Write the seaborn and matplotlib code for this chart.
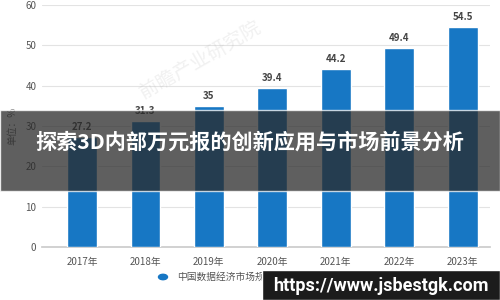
import matplotlib
matplotlib.use("Agg")
import matplotlib.pyplot as plt
import seaborn as sns
import pandas as pd
from matplotlib.patches import Rectangle

years = ["2017年", "2018年", "2019年", "2020年", "2021年", "2022年", "2023年"]
values = [27.2, 31.3, 35, 39.4, 44.2, 49.4, 54.5]
yticks = [0, 10, 20, 30, 40, 50, 60]
legend_label = "中国数据经济市场规模（万亿元）"
ylabel = "单位：%"
title = "探索3D内部万元报的创新应用与市场前景分析"
url = "https://www.jsbestgk.com"

sns.set_theme(style="white")
plt.rcParams['font.family'] = ['Noto Sans CJK SC', 'DejaVu Sans']

df = pd.DataFrame({"year": years, "value": values})

fig = plt.figure(figsize=(5, 3), dpi=100)
ax = fig.add_axes([0.084, 0.177, 0.896, 0.806])
sns.barplot(data=df, x="year", y="value", color="#1777c4", width=0.47,
            saturation=1, ax=ax, zorder=3)
ax.set_xlim(-0.63, 6.43)
ax.set_ylim(0, 60)
ax.set_yticks(yticks)
ax.yaxis.grid(True, color="#e3e3e3", linewidth=0.8, zorder=0)
for s in ["top", "right", "left"]:
    ax.spines[s].set_visible(False)
ax.spines["bottom"].set_color("#cccccc")
ax.tick_params(axis="both", labelsize=7, colors="#555555", length=0, pad=4)
ax.tick_params(axis="x", length=3, color="#cccccc")
ax.set_xlabel("")
ax.set_ylabel(ylabel, fontsize=7, color="#666666", labelpad=6)

for i, v in enumerate(values):
    ax.text(i, v + 1.2, f"{v:g}", ha="center", va="bottom", fontsize=7,
            color="#444444", fontweight="bold")

# watermark
fig.text(0.40, 0.80, "前瞻产业研究院", fontsize=14, color="#b0b0b0", alpha=0.18,
         rotation=30, ha="center", va="center")

# legend
fig.patches.append(plt.Circle((163 / 500, 1 - 277 / 300), 0.009, transform=fig.transFigure,
                              color="#1777c4", figure=fig))
fig.text(177 / 500, 1 - 277 / 300, legend_label, fontsize=7, color="#555555",
         ha="left", va="center")

# banner
fig.patches.append(Rectangle((0, 1 - 191 / 300), 1, 81 / 300, transform=fig.transFigure,
                             facecolor="#2a2a2a", alpha=0.75, figure=fig, zorder=10))
fig.text(35 / 500, 1 - 142 / 300, title, fontsize=15.2, color="white", fontweight="bold",
         ha="left", va="center", zorder=11)

# url box
fig.patches.append(Rectangle((262 / 500, 0), 238 / 500, 30 / 300, transform=fig.transFigure,
                             facecolor="#1c1c1c", figure=fig, zorder=10))
fig.text(381 / 500, 14 / 300, url, fontsize=13, color="white", fontweight="bold",
         ha="center", va="center", zorder=11, family=["Roboto", "DejaVu Sans"])

fig.savefig("out.png", dpi=100)
